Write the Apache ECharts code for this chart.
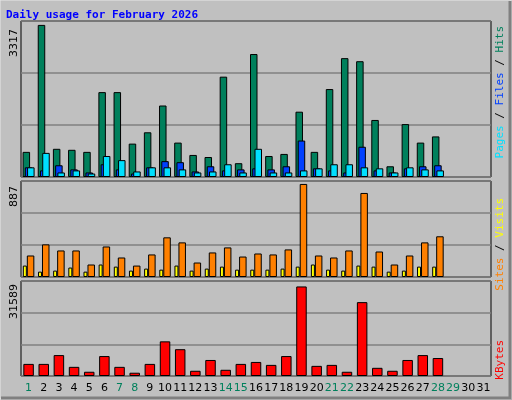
<!DOCTYPE html>
<html><head><meta charset="utf-8">
<script src="https://cdn.jsdelivr.net/npm/echarts@6/dist/echarts.min.js"></script>
<style>html,body{margin:0;padding:0;background:#c0c0c0}#c{width:512px;height:400px}</style>
</head><body><div id="c"></div>
<script>
const days = Array.from({length:31},(_,i)=>String(i+1));
const weekendDays = [1,7,8,14,15,21,22,28,29];
const hits  = [548,3317,615,593,548,1851,1851,728,975,1559,750,481,436,2188,301,2682,458,503,1424,548,1918,2592,2525,1244,234,1154,750,885];
const files = [211,144,256,166,99,278,166,76,211,346,323,121,234,144,166,189,166,234,795,189,144,99,660,144,99,189,234,256];
const pages = [211,526,99,144,76,458,368,121,211,211,166,99,121,278,99,615,99,99,144,189,278,278,211,189,99,211,166,144];
const visits= [109,51,61,90,51,119,99,61,80,70,109,61,80,99,70,70,70,80,99,119,70,61,109,99,51,61,99,99];
const sites = [205,311,253,253,119,291,186,109,215,378,330,138,234,282,195,224,215,263,887,205,186,253,801,243,119,205,330,388];
const kbytes= [4266,4266,7379,3228,1499,7033,3228,1153,4266,12222,9455,1845,5650,2191,4266,4958,3920,7033,31589,3574,3920,1499,26058,2883,1845,5650,7379,6342];
const maxLabels = ['3317','887','31589'];

const L=21, W=470;
const grids=[{left:L,top:21,width:W,height:156},{left:L,top:181,width:W,height:96},{left:L,top:281,width:W,height:95}];
const gridStyle={show:true,backgroundColor:'#c0c0c0',borderColor:'#000',borderWidth:1};
function xa(i,show){return {type:'category',gridIndex:i,data:days,boundaryGap:true,
  axisLine:{show:false},axisTick:{show:false},
  axisLabel:{show:show,fontFamily:'DejaVu Sans',fontSize:11,margin:7,interval:0,
    formatter:v=>weekendDays.includes(+v)?'{w|'+v+'}':'{d|'+v+'}',
    rich:{w:{color:'#00805c',fontFamily:'DejaVu Sans',fontSize:11},d:{color:'#000',fontFamily:'DejaVu Sans',fontSize:11}}}};}
function ya(i,max,intv){return {type:'value',gridIndex:i,min:0,max:max,interval:intv,
  axisLabel:{show:false},axisLine:{show:false},axisTick:{show:false},
  splitLine:{show:true,lineStyle:{color:'#808080',width:1.5}}};}
const bs={borderColor:'#000',borderWidth:1};
function bar(name,data,xi,color,w,gap){return {name,type:'bar',xAxisIndex:xi,yAxisIndex:xi,data,barWidth:w,barGap:gap,
  itemStyle:Object.assign({color},bs),animation:false};}

const rot=Math.PI/2;
function vtext(x,y,rich,parts,align){return {type:'text',x,y,rotation:rot,style:{text:parts,rich,fontFamily:'DejaVu Sans Mono',fontSize:11,align:align||'right',verticalAlign:'middle'}};}

const opt={
  backgroundColor:'#c0c0c0',
  animation:false,
  grid:grids.map(g=>Object.assign({},g,gridStyle)),
  xAxis:[xa(0,false),xa(1,false),xa(2,true)],
  yAxis:[ya(0,3402,1134),ya(1,915,305),ya(2,33510,11170)],
  series:[
    bar('Hits',hits,0,'#00805c',7.5,'-70%'),
    bar('Files',files,0,'#0040ff',7.5,'-70%'),
    bar('Pages',pages,0,'#00e0ff',7.5,'-70%'),
    bar('Visits',visits,1,'#ffff00',4,'0%'),
    bar('Sites',sites,1,'#ff8000',7.5,'0%'),
    bar('KBytes',kbytes,2,'#ff0000',10.5,'0%')
  ],
  graphic:[
    {type:'rect',shape:{x:0,y:0,width:511,height:399},style:{fill:'none',stroke:'#e8e8e8',lineWidth:1}},
    {type:'polyline',shape:{points:[[510,1],[510,398],[1,398]]},style:{stroke:'#808080',lineWidth:3,fill:'none'}},
    {type:'text',x:6,y:15,style:{text:'Daily usage for February 2026',fill:'#0000ff',fontFamily:'DejaVu Sans Mono',fontWeight:'bold',fontSize:11,verticalAlign:'middle'}},
    {type:'text',x:14,y:29,rotation:rot,style:{text:maxLabels[0],fill:'#000',fontFamily:'DejaVu Sans',fontSize:11,align:'right',verticalAlign:'middle'}},
    {type:'text',x:14,y:186,rotation:rot,style:{text:maxLabels[1],fill:'#000',fontFamily:'DejaVu Sans',fontSize:11,align:'right',verticalAlign:'middle'}},
    {type:'text',x:14,y:284,rotation:rot,style:{text:maxLabels[2],fill:'#000',fontFamily:'DejaVu Sans',fontSize:11,align:'right',verticalAlign:'middle'}},
    {type:'text',x:500,y:26,rotation:rot,style:{text:'{p|Pages}{s| / }{f|Files}{s| / }{h|Hits}',align:'right',verticalAlign:'middle',fontFamily:'DejaVu Sans Mono',fontSize:11,
      rich:{p:{fill:'#00e0ff',fontFamily:'DejaVu Sans Mono',fontSize:11},f:{fill:'#0040ff',fontFamily:'DejaVu Sans Mono',fontSize:11},h:{fill:'#00805c',fontFamily:'DejaVu Sans Mono',fontSize:11},s:{fill:'#000',fontFamily:'DejaVu Sans Mono',fontSize:11}}}},
    {type:'text',x:500,y:198,rotation:rot,style:{text:'{a|Sites}{s| / }{b|Visits}',align:'right',verticalAlign:'middle',fontFamily:'DejaVu Sans Mono',fontSize:11,
      rich:{a:{fill:'#ff8000',fontFamily:'DejaVu Sans Mono',fontSize:11},b:{fill:'#ffff00',fontFamily:'DejaVu Sans Mono',fontSize:11},s:{fill:'#000',fontFamily:'DejaVu Sans Mono',fontSize:11}}}},
    {type:'text',x:500,y:340,rotation:rot,style:{text:'KBytes',fill:'#ff0000',align:'right',verticalAlign:'middle',fontFamily:'DejaVu Sans Mono',fontSize:11}}
  ]
};
const ch=echarts.init(document.getElementById('c'),null,{renderer:'canvas'});
ch.setOption(opt);
</script></body></html>
